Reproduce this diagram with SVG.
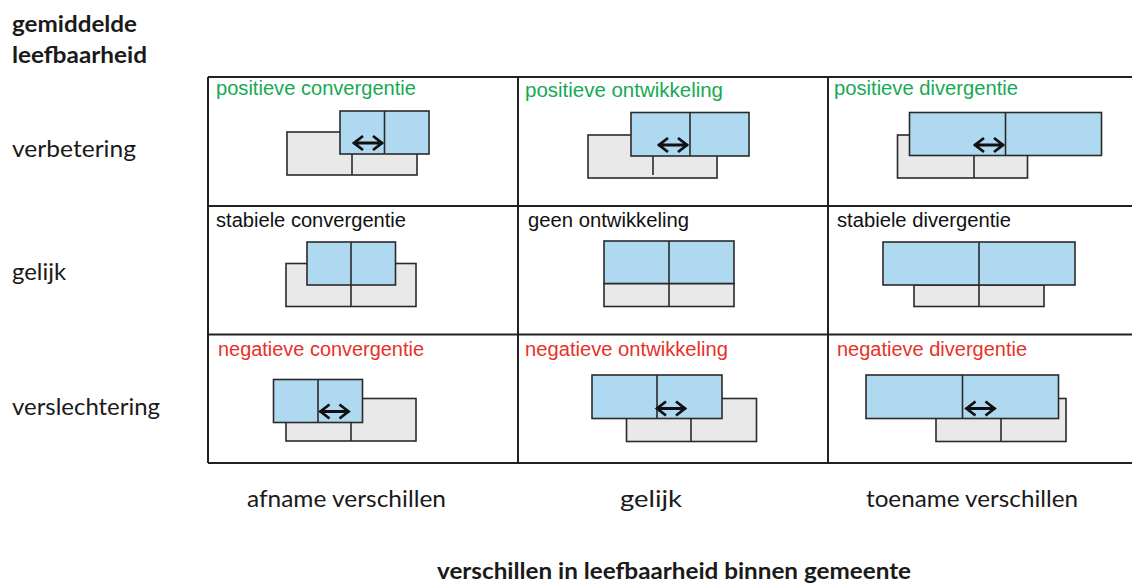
<svg xmlns="http://www.w3.org/2000/svg" xmlns:xlink="http://www.w3.org/1999/xlink" width="1132" height="583" viewBox="0 0 1132 583">
<defs>
<style>
.grid{stroke:#222;stroke-width:2;fill:none}
.b{fill:#aed9f0;stroke:#2a2a2a;stroke-width:1.6}
.g{fill:#e9e9e9;stroke:#2a2a2a;stroke-width:1.6}
.d{stroke:#2a2a2a;stroke-width:1.6}
.lbl{font-family:"Liberation Sans",Arial,sans-serif;font-size:19.5px}
.grn{fill:#16a955}
.red{fill:#e63228}
.blk{fill:#111}
.ax{font-family:Lato,"Open Sans",sans-serif;font-size:23px;fill:#1a1a1a}
.axb{font-family:Lato,"Open Sans",sans-serif;font-size:23px;font-weight:bold;fill:#1a1a1a}
.arr{fill:none;stroke:#111;stroke-width:2.8;stroke-linecap:butt;stroke-linejoin:miter}
</style>
<g id="arrow"><path class="arr" d="M1,0 H31 M11,-7 L2,0 L11,7 M21,-7 L30,0 L21,7"/></g>
</defs>
<rect width="1132" height="583" fill="#fff"/>
<g id="grid">
<path class="grid" d="M208,77 H1132 M208,206 H1132 M208,334.5 H1132 M208,463 H1132 M208,77 V463 M518,77 V463 M828,77 V463"/>
</g>
<g id="axis-labels">
<text class="axb" x="12" y="32" textLength="125" lengthAdjust="spacingAndGlyphs">gemiddelde</text>
<text class="axb" x="12" y="63" textLength="135" lengthAdjust="spacingAndGlyphs">leefbaarheid</text>
<text class="ax" x="12" y="157" textLength="124" lengthAdjust="spacingAndGlyphs">verbetering</text>
<text class="ax" x="12" y="280" textLength="54" lengthAdjust="spacingAndGlyphs">gelijk</text>
<text class="ax" x="12" y="415" textLength="148" lengthAdjust="spacingAndGlyphs">verslechtering</text>
<text class="ax" x="247" y="507" textLength="199" lengthAdjust="spacingAndGlyphs">afname verschillen</text>
<text class="ax" x="620" y="507" textLength="62" lengthAdjust="spacingAndGlyphs">gelijk</text>
<text class="ax" x="866" y="507" textLength="212" lengthAdjust="spacingAndGlyphs">toename verschillen</text>
<text class="axb" x="437" y="579" textLength="474" lengthAdjust="spacingAndGlyphs">verschillen in leefbaarheid binnen gemeente</text>
</g>
<g id="cell-positieve-convergentie">
<text class="lbl grn" x="216" y="95" textLength="200" lengthAdjust="spacingAndGlyphs">positieve convergentie</text>
<rect class="g" x="287" y="132" width="130" height="43"/><line class="d" x1="352" y1="132" x2="352" y2="175"/>
<rect class="b" x="340" y="111" width="89" height="43"/><line class="d" x1="384.5" y1="111" x2="384.5" y2="154"/>
<use xlink:href="#arrow" x="352" y="143"/>
</g>
<g id="cell-positieve-ontwikkeling">
<text class="lbl grn" x="525" y="96.5" textLength="198" lengthAdjust="spacingAndGlyphs">positieve ontwikkeling</text>
<rect class="g" x="588" y="135" width="129" height="43"/><line class="d" x1="653" y1="135" x2="653" y2="175"/>
<rect class="b" x="631" y="112.5" width="118" height="43.5"/><line class="d" x1="690" y1="112.5" x2="690" y2="156"/>
<use xlink:href="#arrow" x="657" y="145"/>
</g>
<g id="cell-positieve-divergentie">
<text class="lbl grn" x="834" y="95" textLength="184" lengthAdjust="spacingAndGlyphs">positieve divergentie</text>
<rect class="g" x="897.5" y="135" width="130" height="43"/><line class="d" x1="974" y1="135" x2="974" y2="178"/>
<rect class="b" x="909.5" y="112.5" width="192" height="43"/><line class="d" x1="1005.5" y1="112.5" x2="1005.5" y2="155.5"/>
<use xlink:href="#arrow" x="973" y="145"/>
</g>
<g id="cell-stabiele-convergentie">
<text class="lbl blk" x="216" y="226.5" textLength="190" lengthAdjust="spacingAndGlyphs">stabiele convergentie</text>
<rect class="g" x="286" y="263.5" width="130" height="43"/><line class="d" x1="351" y1="263.5" x2="351" y2="306.5"/>
<rect class="b" x="307" y="242" width="88.5" height="43"/><line class="d" x1="351" y1="242" x2="351" y2="285"/>
</g>
<g id="cell-geen-ontwikkeling">
<text class="lbl blk" x="528" y="226.5" textLength="161" lengthAdjust="spacingAndGlyphs">geen ontwikkeling</text>
<rect class="g" x="604" y="283.5" width="130" height="23"/><line class="d" x1="669" y1="283.5" x2="669" y2="306.5"/>
<rect class="b" x="604" y="241" width="130" height="42.5"/><line class="d" x1="669" y1="241" x2="669" y2="283.5"/>
</g>
<g id="cell-stabiele-divergentie">
<text class="lbl blk" x="837" y="226.5" textLength="174" lengthAdjust="spacingAndGlyphs">stabiele divergentie</text>
<rect class="g" x="914" y="285" width="130" height="21.5"/><line class="d" x1="979" y1="285" x2="979" y2="306.5"/>
<rect class="b" x="883" y="242" width="192" height="43"/><line class="d" x1="979" y1="242" x2="979" y2="285"/>
</g>
<g id="cell-negatieve-convergentie">
<text class="lbl red" x="218" y="355.5" textLength="206" lengthAdjust="spacingAndGlyphs">negatieve convergentie</text>
<rect class="g" x="286" y="398.5" width="130" height="42.5"/><line class="d" x1="351" y1="398.5" x2="351" y2="441"/>
<rect class="b" x="273.5" y="379.5" width="89" height="43"/><line class="d" x1="318" y1="379.5" x2="318" y2="422.5"/>
<use xlink:href="#arrow" x="318.5" y="411.5"/>
</g>
<g id="cell-negatieve-ontwikkeling">
<text class="lbl red" x="525" y="356" textLength="203" lengthAdjust="spacingAndGlyphs">negatieve ontwikkeling</text>
<rect class="g" x="626.5" y="398.5" width="130" height="43"/><line class="d" x1="691" y1="398.5" x2="691" y2="441.5"/>
<rect class="b" x="592" y="375" width="130" height="43.5"/><line class="d" x1="657" y1="375" x2="657" y2="418.5"/>
<use xlink:href="#arrow" x="655" y="408.5"/>
</g>
<g id="cell-negatieve-divergentie">
<text class="lbl red" x="837" y="356" textLength="190" lengthAdjust="spacingAndGlyphs">negatieve divergentie</text>
<rect class="g" x="936" y="398.5" width="130" height="43"/><line class="d" x1="1001" y1="398.5" x2="1001" y2="441.5"/>
<rect class="b" x="866" y="375" width="192.5" height="43.5"/><line class="d" x1="962.5" y1="375" x2="962.5" y2="418.5"/>
<use xlink:href="#arrow" x="964.5" y="408.5"/>
</g>
</svg>
